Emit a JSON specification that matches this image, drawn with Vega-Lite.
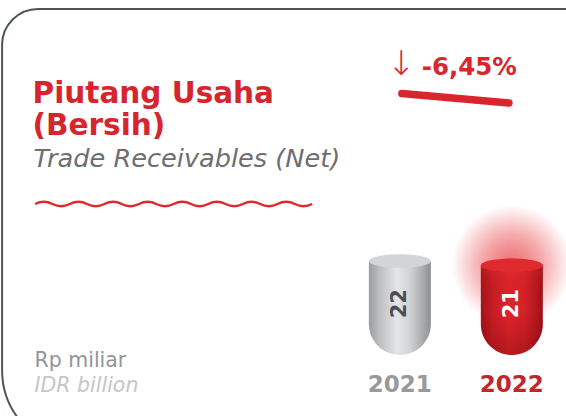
{
  "$schema": "https://vega.github.io/schema/vega-lite/v6.json",
  "width": 566,
  "height": 416,
  "padding": 0,
  "autosize": {"type": "none"},
  "background": "white",
  "config": {"view": {"stroke": null}, "font": "DejaVu Sans"},
  "data": {"values": [{"year": 2021, "value": 22}, {"year": 2022, "value": 21}]},
  "layer": [
    {
      "data": {"values": [{"part": "card"}]},
      "mark": {"type": "rect", "fill": "transparent", "stroke": "#4f555b", "strokeWidth": 2, "cornerRadiusTopLeft": 36, "cornerRadiusBottomLeft": 80},
      "encoding": {
        "x": {"datum": 2017.448, "type": "quantitative", "scale": {"domain": [2017.474, 2022.439], "nice": false, "zero": false}, "axis": null},
        "x2": {"datum": 2023.088},
        "y": {"datum": 80.98, "type": "quantitative", "scale": {"domain": [-14.28, 83.09], "nice": false, "zero": false}, "axis": null},
        "y2": {"datum": -22.24}
      }
    },
    {
      "transform": [{"filter": "datum.year == 2022"}],
      "mark": {"type": "point", "shape": "circle", "filled": true, "size": 14500, "strokeWidth": 0,
        "fill": {"gradient": "radial", "x1": 0.5, "y1": 0.5, "x2": 0.5, "y2": 0.5, "r1": 0, "r2": 0.5,
          "stops": [{"offset": 0, "color": "rgba(228,32,38,0.95)"}, {"offset": 0.5, "color": "rgba(228,32,38,0.55)"}, {"offset": 1, "color": "rgba(228,32,38,0)"}]}},
      "encoding": {
        "x": {"field": "year", "type": "quantitative", "scale": {"domain": [2017.474, 2022.439], "nice": false, "zero": false}, "axis": null},
        "y": {"field": "value", "type": "quantitative", "scale": {"domain": [-14.28, 83.09], "nice": false, "zero": false}, "axis": null}
      }
    },
    {
      "transform": [{"filter": "datum.year == 2021"}],
      "mark": {"type": "bar", "width": 62, "cornerRadiusBottomLeft": 31, "cornerRadiusBottomRight": 31,
        "fill": {"gradient": "linear", "x1": 0, "y1": 0, "x2": 1, "y2": 0,
          "stops": [{"offset": 0, "color": "#9a9da0"}, {"offset": 0.15, "color": "#b9bbbd"}, {"offset": 0.45, "color": "#e4e5e6"}, {"offset": 0.65, "color": "#d3d4d5"}, {"offset": 0.9, "color": "#a3a6a9"}, {"offset": 1, "color": "#8c9093"}]}},
      "encoding": {
        "x": {"field": "year", "type": "quantitative", "scale": {"domain": [2017.474, 2022.439], "nice": false, "zero": false}, "axis": null},
        "y": {"field": "value", "type": "quantitative", "scale": {"domain": [-14.28, 83.09], "nice": false, "zero": false}, "axis": null},
        "y2": {"datum": 0}
      }
    },
    {
      "transform": [{"filter": "datum.year == 2022"}],
      "mark": {"type": "bar", "width": 62, "cornerRadiusBottomLeft": 31, "cornerRadiusBottomRight": 31,
        "fill": {"gradient": "linear", "x1": 0, "y1": 0, "x2": 1, "y2": 0,
          "stops": [{"offset": 0, "color": "#a3131a"}, {"offset": 0.18, "color": "#c61c23"}, {"offset": 0.45, "color": "#dc252b"}, {"offset": 0.7, "color": "#d42228"}, {"offset": 0.92, "color": "#b0161c"}, {"offset": 1, "color": "#9a1117"}]}},
      "encoding": {
        "x": {"field": "year", "type": "quantitative", "scale": {"domain": [2017.474, 2022.439], "nice": false, "zero": false}, "axis": null},
        "y": {"field": "value", "type": "quantitative", "scale": {"domain": [-14.28, 83.09], "nice": false, "zero": false}, "axis": null},
        "y2": {"datum": 0}
      }
    },
    {
      "transform": [{"filter": "datum.year == 2022"}],
      "mark": {"type": "bar", "width": 62, "cornerRadiusBottomLeft": 31, "cornerRadiusBottomRight": 31,
        "fill": {"gradient": "linear", "x1": 0, "y1": 0, "x2": 0, "y2": 1,
          "stops": [{"offset": 0, "color": "rgba(255,60,60,0.15)"}, {"offset": 0.5, "color": "rgba(120,0,0,0)"}, {"offset": 1, "color": "rgba(90,0,0,0.3)"}]}},
      "encoding": {
        "x": {"field": "year", "type": "quantitative", "scale": {"domain": [2017.474, 2022.439], "nice": false, "zero": false}, "axis": null},
        "y": {"field": "value", "type": "quantitative", "scale": {"domain": [-14.28, 83.09], "nice": false, "zero": false}, "axis": null},
        "y2": {"datum": 0}
      }
    },
    {
      "mark": {"type": "point", "filled": true, "size": 3844, "strokeWidth": 0, "opacity": 1,
        "shape": "M-1,0 A1,0.22 0 1,1 1,0 A1,0.22 0 1,1 -1,0 Z"},
      "encoding": {
        "x": {"field": "year", "type": "quantitative", "scale": {"domain": [2017.474, 2022.439], "nice": false, "zero": false}, "axis": null},
        "y": {"field": "value", "type": "quantitative", "scale": {"domain": [-14.28, 83.09], "nice": false, "zero": false}, "axis": null},
        "color": {"condition": {"test": "datum.year == 2022", "value": "#e12a2d"}, "value": "#d3d4d5"}
      }
    },
    {
      "mark": {"type": "text", "angle": 270, "align": "center", "baseline": "middle", "font": "DejaVu Sans", "fontWeight": "bold", "fontSize": 21},
      "encoding": {
        "x": {"field": "year", "type": "quantitative", "scale": {"domain": [2017.474, 2022.439], "nice": false, "zero": false}, "axis": null},
        "y": {"datum": 12, "type": "quantitative", "scale": {"domain": [-14.28, 83.09], "nice": false, "zero": false}, "axis": null},
        "text": {"field": "value", "type": "quantitative"},
        "color": {"condition": {"test": "datum.year == 2022", "value": "#ffffff"}, "value": "#4b5056"}
      }
    },
    {
      "mark": {"type": "text", "align": "center", "baseline": "alphabetic", "font": "DejaVu Sans", "fontWeight": "bold", "fontSize": 23},
      "encoding": {
        "x": {"field": "year", "type": "quantitative", "scale": {"domain": [2017.474, 2022.439], "nice": false, "zero": false}, "axis": null},
        "y": {"datum": -8.59, "type": "quantitative", "scale": {"domain": [-14.28, 83.09], "nice": false, "zero": false}, "axis": null},
        "text": {"field": "year", "type": "nominal"},
        "color": {"condition": {"test": "datum.year == 2022", "value": "#c1262c"}, "value": "#97999c"}
      }
    },
    {
      "data": {"values": [{"label": "Piutang Usaha\n(Bersih)"}]},
      "mark": {"type": "text", "align": "left", "baseline": "alphabetic", "font": "DejaVu Sans", "fontWeight": "bold", "fontSize": 29.5, "lineBreak": "\n", "lineHeight": 32, "color": "#d6252c"},
      "encoding": {
        "x": {"datum": 2017.72, "type": "quantitative", "scale": {"domain": [2017.474, 2022.439], "nice": false, "zero": false}, "axis": null},
        "y": {"datum": 58.98, "type": "quantitative", "scale": {"domain": [-14.28, 83.09], "nice": false, "zero": false}, "axis": null},
        "text": {"field": "label", "type": "nominal"}
      }
    },
    {
      "data": {"values": [{"label": "Trade Receivables (Net)"}]},
      "mark": {"type": "text", "align": "left", "baseline": "alphabetic", "font": "DejaVu Sans", "fontWeight": 200, "fontStyle": "italic", "fontSize": 25.6, "color": "#6d6e71"},
      "encoding": {
        "x": {"datum": 2017.728, "type": "quantitative", "scale": {"domain": [2017.474, 2022.439], "nice": false, "zero": false}, "axis": null},
        "y": {"datum": 44.0, "type": "quantitative", "scale": {"domain": [-14.28, 83.09], "nice": false, "zero": false}, "axis": null},
        "text": {"field": "label", "type": "nominal"}
      }
    },
    {
      "data": {"values": [{"part": "wave"}]},
      "mark": {"type": "point", "filled": false, "size": 76729, "stroke": "#dc2a30", "strokeWidth": 2.4, "opacity": 1,
        "shape": "M-1,0 Q-0.9375,-0.032 -0.875,0 T-0.75,0 T-0.625,0 T-0.5,0 T-0.375,0 T-0.25,0 T-0.125,0 T0,0 T0.125,0 T0.25,0 T0.375,0 T0.5,0 T0.625,0 T0.75,0 T0.875,0 T1,0"},
      "encoding": {
        "x": {"datum": 2018.980, "type": "quantitative", "scale": {"domain": [2017.474, 2022.439], "nice": false, "zero": false}, "axis": null},
        "y": {"datum": 35.34, "type": "quantitative", "scale": {"domain": [-14.28, 83.09], "nice": false, "zero": false}, "axis": null}
      }
    },
    {
      "data": {"values": [{"label": "↓"}]},
      "mark": {"type": "text", "align": "center", "baseline": "alphabetic", "font": "DejaVu Sans", "fontWeight": 200, "fontSize": 34, "color": "#d9262d"},
      "encoding": {
        "x": {"datum": 2021.0135, "type": "quantitative", "scale": {"domain": [2017.474, 2022.439], "nice": false, "zero": false}, "axis": null},
        "y": {"datum": 65.535, "type": "quantitative", "scale": {"domain": [-14.28, 83.09], "nice": false, "zero": false}, "axis": null},
        "text": {"field": "label", "type": "nominal"}
      }
    },
    {
      "data": {"values": [{"label": "-6,45%"}]},
      "mark": {"type": "text", "align": "center", "baseline": "alphabetic", "font": "DejaVu Sans", "fontWeight": "bold", "fontSize": 24.5, "color": "#d9262d"},
      "encoding": {
        "x": {"datum": 2021.62, "type": "quantitative", "scale": {"domain": [2017.474, 2022.439], "nice": false, "zero": false}, "axis": null},
        "y": {"datum": 65.535, "type": "quantitative", "scale": {"domain": [-14.28, 83.09], "nice": false, "zero": false}, "axis": null},
        "text": {"field": "label", "type": "nominal"}
      }
    },
    {
      "data": {"values": [{"part": "underline"}]},
      "mark": {"type": "rule", "strokeWidth": 7.5, "strokeCap": "round", "color": "#d9262d"},
      "encoding": {
        "x": {"datum": 2021.018, "type": "quantitative", "scale": {"domain": [2017.474, 2022.439], "nice": false, "zero": false}, "axis": null},
        "y": {"datum": 61.205, "type": "quantitative", "scale": {"domain": [-14.28, 83.09], "nice": false, "zero": false}, "axis": null},
        "x2": {"datum": 2021.974},
        "y2": {"datum": 58.98}
      }
    },
    {
      "data": {"values": [{"label": "Rp miliar"}]},
      "mark": {"type": "text", "align": "left", "baseline": "alphabetic", "font": "DejaVu Sans", "fontSize": 20.5, "color": "#939598"},
      "encoding": {
        "x": {"datum": 2017.737, "type": "quantitative", "scale": {"domain": [2017.474, 2022.439], "nice": false, "zero": false}, "axis": null},
        "y": {"datum": -2.81, "type": "quantitative", "scale": {"domain": [-14.28, 83.09], "nice": false, "zero": false}, "axis": null},
        "text": {"field": "label", "type": "nominal"}
      }
    },
    {
      "data": {"values": [{"label": "IDR billion"}]},
      "mark": {"type": "text", "align": "left", "baseline": "alphabetic", "font": "DejaVu Sans", "fontWeight": 200, "fontStyle": "italic", "fontSize": 20.5, "color": "#c5c6c8"},
      "encoding": {
        "x": {"datum": 2017.737, "type": "quantitative", "scale": {"domain": [2017.474, 2022.439], "nice": false, "zero": false}, "axis": null},
        "y": {"datum": -8.66, "type": "quantitative", "scale": {"domain": [-14.28, 83.09], "nice": false, "zero": false}, "axis": null},
        "text": {"field": "label", "type": "nominal"}
      }
    }
  ]
}
